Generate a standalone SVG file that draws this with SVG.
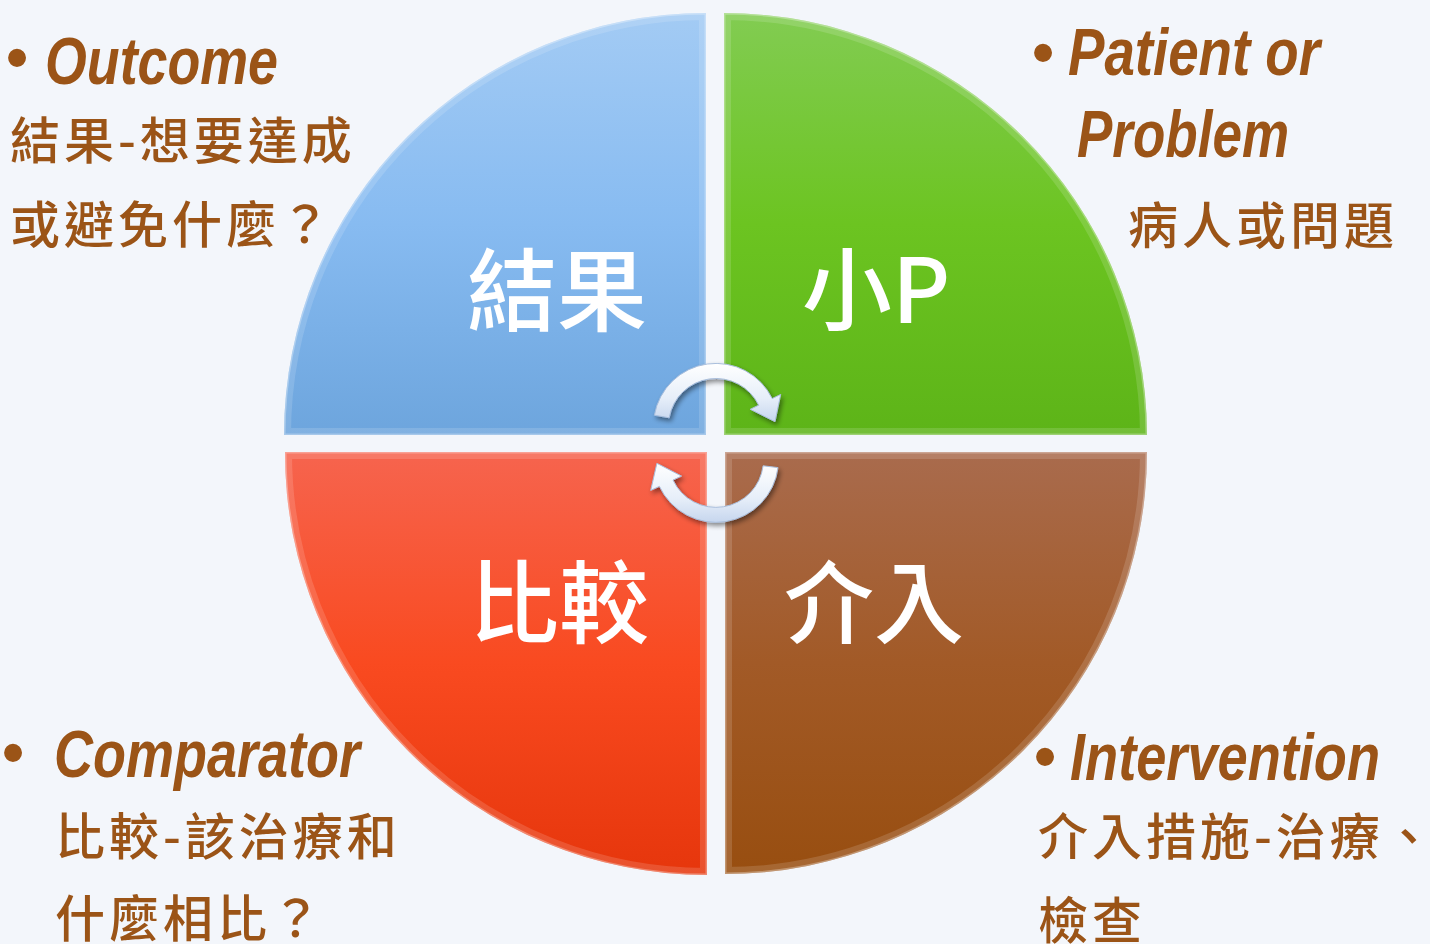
<svg xmlns="http://www.w3.org/2000/svg" width="1430" height="944" viewBox="0 0 1430 944">
<defs>
<style>
.en{font-family:"Liberation Sans",Arial,sans-serif;font-weight:bold;font-style:italic;font-size:66px;fill:#9B5417}
.bul{font-family:"Liberation Sans",Arial,sans-serif;font-size:66px;fill:#9B5417;text-anchor:middle}
.zh{font-family:"Noto Sans CJK TC","Noto Sans CJK SC",sans-serif;font-weight:500;font-size:50px;letter-spacing:4px;fill:#9B5417}
.big{font-family:"Noto Sans CJK TC","Noto Sans CJK SC",sans-serif;font-weight:500;font-size:90px;fill:#FFFFFF}
.bev{fill:none;stroke:#FFFFFF;stroke-width:14;stroke-opacity:0.14}
.bev2{fill:none;stroke:#FFFFFF;stroke-width:3;stroke-opacity:0.3}
.arw{fill:url(#gArrow);stroke:#A9BEDC;stroke-width:1;filter:url(#shadow)}
</style>
<linearGradient id="gBlue" x1="0" y1="0" x2="0" y2="1">
<stop offset="0" stop-color="#A3CBF4"/><stop offset="0.5" stop-color="#87BBF1"/><stop offset="1" stop-color="#6DA5DD"/>
</linearGradient>
<linearGradient id="gGreen" x1="0" y1="0" x2="0" y2="1">
<stop offset="0" stop-color="#82CC52"/><stop offset="0.5" stop-color="#6CC421"/><stop offset="1" stop-color="#5DB418"/>
</linearGradient>
<linearGradient id="gRed" x1="0" y1="0" x2="0" y2="1">
<stop offset="0" stop-color="#F6644E"/><stop offset="0.5" stop-color="#F94A20"/><stop offset="1" stop-color="#E6360C"/>
</linearGradient>
<linearGradient id="gBrown" x1="0" y1="0" x2="0" y2="1">
<stop offset="0" stop-color="#A96B4D"/><stop offset="0.5" stop-color="#A25A27"/><stop offset="1" stop-color="#984E10"/>
</linearGradient>
<linearGradient id="gArrow" x1="0" y1="0" x2="0" y2="1">
<stop offset="0" stop-color="#FFFFFF"/><stop offset="0.6" stop-color="#E6EEF9"/><stop offset="1" stop-color="#C6D6EE"/>
</linearGradient>
<filter id="shadow" x="-30%" y="-30%" width="160%" height="160%">
<feGaussianBlur in="SourceAlpha" stdDeviation="2.5"/>
<feOffset dx="2" dy="3" result="b"/>
<feComponentTransfer><feFuncA type="linear" slope="0.45"/></feComponentTransfer>
<feMerge><feMergeNode/><feMergeNode in="SourceGraphic"/></feMerge>
</filter>
<clipPath id="cBlue"><path id="pBlue" d="M706,435 L284,435 A422,422 0 0 1 706,13 Z"/></clipPath>
<clipPath id="cGreen"><path id="pGreen" d="M724,435 L724,13 A423,423 0 0 1 1147,435 Z"/></clipPath>
<clipPath id="cRed"><path id="pRed" d="M707,452 L707,875 A422,422 0 0 1 285,452 Z"/></clipPath>
<clipPath id="cBrown"><path id="pBrown" d="M725,452 L1147,452 A422,422 0 0 1 725,874 Z"/></clipPath>
</defs>
<rect width="1430" height="944" fill="#F3F6FB"/>

<g id="outcome">
<use href="#pBlue" fill="url(#gBlue)"/>
<use href="#pBlue" class="bev" clip-path="url(#cBlue)"/>
<use href="#pBlue" class="bev2" clip-path="url(#cBlue)"/>
<text class="big" x="467" y="324">結果</text>
</g>
<g id="patient">
<use href="#pGreen" fill="url(#gGreen)"/>
<use href="#pGreen" class="bev" clip-path="url(#cGreen)"/>
<use href="#pGreen" class="bev2" clip-path="url(#cGreen)"/>
<text class="big" x="802" y="323">小P</text>
</g>
<g id="comparator">
<use href="#pRed" fill="url(#gRed)"/>
<use href="#pRed" class="bev" clip-path="url(#cRed)"/>
<use href="#pRed" class="bev2" clip-path="url(#cRed)"/>
<text class="big" x="469" y="636">比較</text>
</g>
<g id="intervention">
<use href="#pBrown" fill="url(#gBrown)"/>
<use href="#pBrown" class="bev" clip-path="url(#cBrown)"/>
<use href="#pBrown" class="bev2" clip-path="url(#cBrown)"/>
<text class="big" x="784" y="636">介入</text>
</g>

<g id="connectors">
<path class="arw" d="M654.4,415.2 A62.5,62.5 0 0 1 772.2,398.6 L780.7,394.4 L775.0,421.7 L750.2,409.3 L758.7,405.2 A47.5,47.5 0 0 0 669.2,417.8 Z"/>
<path class="arw" d="M778.0,467.6 A62.5,62.5 0 0 1 659.4,486.4 L650.7,490.4 L656.9,463.3 L681.6,476.1 L673.0,480.1 A47.5,47.5 0 0 0 763.1,465.8 Z"/>
</g>

<g id="label-outcome">
<text class="bul" x="17" y="80">•</text>
<text class="en" x="45" y="84" textLength="233" lengthAdjust="spacingAndGlyphs">Outcome</text>
<text class="zh" x="10" y="159">結果-想要達成</text>
<text class="zh" x="10" y="243">或避免什麼？</text>
</g>
<g id="label-patient">
<text class="bul" x="1043" y="75">•</text>
<text class="en" x="1068" y="75" textLength="252" lengthAdjust="spacingAndGlyphs">Patient or</text>
<text class="en" x="1077" y="157" textLength="212" lengthAdjust="spacingAndGlyphs">Problem</text>
<text class="zh" x="1128" y="244">病人或問題</text>
</g>
<g id="label-comparator">
<text class="bul" x="13" y="775">•</text>
<text class="en" x="54" y="777" textLength="306" lengthAdjust="spacingAndGlyphs">Comparator</text>
<text class="zh" x="55" y="855">比較-該治療和</text>
<text class="zh" x="55" y="937">什麼相比？</text>
</g>
<g id="label-intervention">
<text class="bul" x="1045" y="779">•</text>
<text class="en" x="1070" y="780" textLength="310" lengthAdjust="spacingAndGlyphs">Intervention</text>
<text class="zh" x="1038" y="855">介入措施-治療、</text>
<text class="zh" x="1038" y="939">檢查</text>
</g>
</svg>
